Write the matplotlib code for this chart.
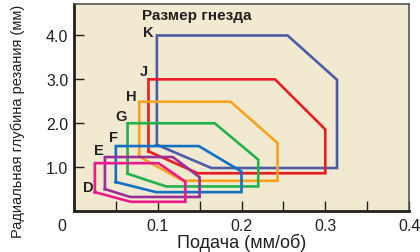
import matplotlib
matplotlib.use("Agg")
import matplotlib.pyplot as plt
from matplotlib.transforms import ScaledTranslation

plt.rcParams['font.family'] = ['Liberation Sans', 'DejaVu Sans']

# --------------------------
# Data: polygon vertices (feed mm/rev, radial depth mm) per pocket size
names = ['K', 'J', 'H', 'G', 'F', 'E', 'D']
feed = {
    'K': [0.099, 0.099, 0.255, 0.314, 0.314, 0.164],
    'J': [0.089, 0.089, 0.240, 0.300, 0.300, 0.148],
    'H': [0.078, 0.078, 0.187, 0.243, 0.243, 0.130],
    'G': [0.064, 0.064, 0.168, 0.220, 0.220, 0.110],
    'F': [0.050, 0.050, 0.149, 0.200, 0.200, 0.098],
    'E': [0.037, 0.037, 0.118, 0.150, 0.150, 0.067],
    'D': [0.025, 0.025, 0.101, 0.133, 0.133, 0.068],
}
depth = {
    'K': [1.51, 4.0, 4.0, 2.99, 0.98, 0.98],
    'J': [1.36, 3.0, 3.0, 1.86, 0.86, 0.86],
    'H': [1.24, 2.49, 2.49, 1.55, 0.69, 0.69],
    'G': [0.85, 2.0, 2.0, 1.17, 0.56, 0.56],
    'F': [0.66, 1.48, 1.48, 0.90, 0.43, 0.43],
    'E': [0.50, 1.23, 1.23, 0.77, 0.32, 0.32],
    'D': [0.43, 1.09, 1.09, 0.67, 0.21, 0.21],
}
colors = {
    'K': '#4b5ca9', 'J': '#ed1c24', 'H': '#f9a21b', 'G': '#22b14c',
    'F': '#1170c4', 'E': '#9a2f97', 'D': '#ec1a8c',
}
# label anchor points
label_x = {'K': 0.089, 'J': 0.083, 'H': 0.069, 'G': 0.056, 'F': 0.047, 'E': 0.030, 'D': 0.017}
label_y = {'K': 4.09, 'J': 3.20, 'H': 2.63, 'G': 2.17, 'F': 1.68, 'E': 1.38, 'D': 0.54}

xticks = [0, 0.1, 0.2, 0.3, 0.4]
xticklabels = ['0', '0.1', '0.2', '0.3', '0.4']
xminor = [0.05, 0.15, 0.25, 0.35]
yticks = [1.0, 2.0, 3.0, 4.0]
yticklabels = ['1.0', '2.0', '3.0', '4.0']

fig = plt.figure(figsize=(4.2, 2.53), dpi=100)
ax = fig.add_axes([0.176, 0.162, 0.798, 0.817])
ax.set_facecolor('#f1ead0')

for n in names:
    xs = feed[n] + [feed[n][0]]
    ys = depth[n] + [depth[n][0]]
    ax.plot(xs, ys, color=colors[n], lw=1.9, solid_joinstyle='miter')
    ax.text(label_x[n], label_y[n], n, fontsize=10.5, fontweight='bold',
            ha='center', va='center', color='#231f20')

ax.text(0.081, 4.47, 'Размер гнезда', fontsize=11, fontweight='bold',
        ha='left', va='center', color='#231f20')

ax.set_xlim(0, 0.4)
ax.set_ylim(0, 4.71)
ax.set_xticks(xticks)
ax.set_xticklabels(xticklabels)
ax.set_xticks(xminor, minor=True)
ax.set_yticks(yticks)
ax.set_yticklabels(yticklabels)
ax.tick_params(axis='both', direction='in', length=7, width=1, labelsize=11.5,
               color='#231f20', labelcolor='#231f20')
ax.tick_params(axis='x', which='minor', direction='in', length=7, width=1, color='#231f20')
ax.tick_params(axis='x', pad=5)
ax.tick_params(axis='y', pad=4)
# the "0" sits left of the axis corner
lab0 = ax.get_xticklabels()[0]
lab0.set_transform(lab0.get_transform() + ScaledTranslation(-12 / 100, 0, fig.dpi_scale_trans))

for s in ['left', 'bottom']:
    ax.spines[s].set_linewidth(2)
    ax.spines[s].set_color('#231f20')
for s in ['top', 'right']:
    ax.spines[s].set_linewidth(1.2)
    ax.spines[s].set_color('#555555')

ax.set_xlabel('Подача (мм/об)', fontsize=13, color='#231f20', labelpad=0)
ax.set_ylabel('Радиальная глубина резания (мм)', fontsize=10.5, color='#231f20')
ax.yaxis.set_label_coords(-0.145, 0.437)

fig.savefig('out.png', dpi=100)
